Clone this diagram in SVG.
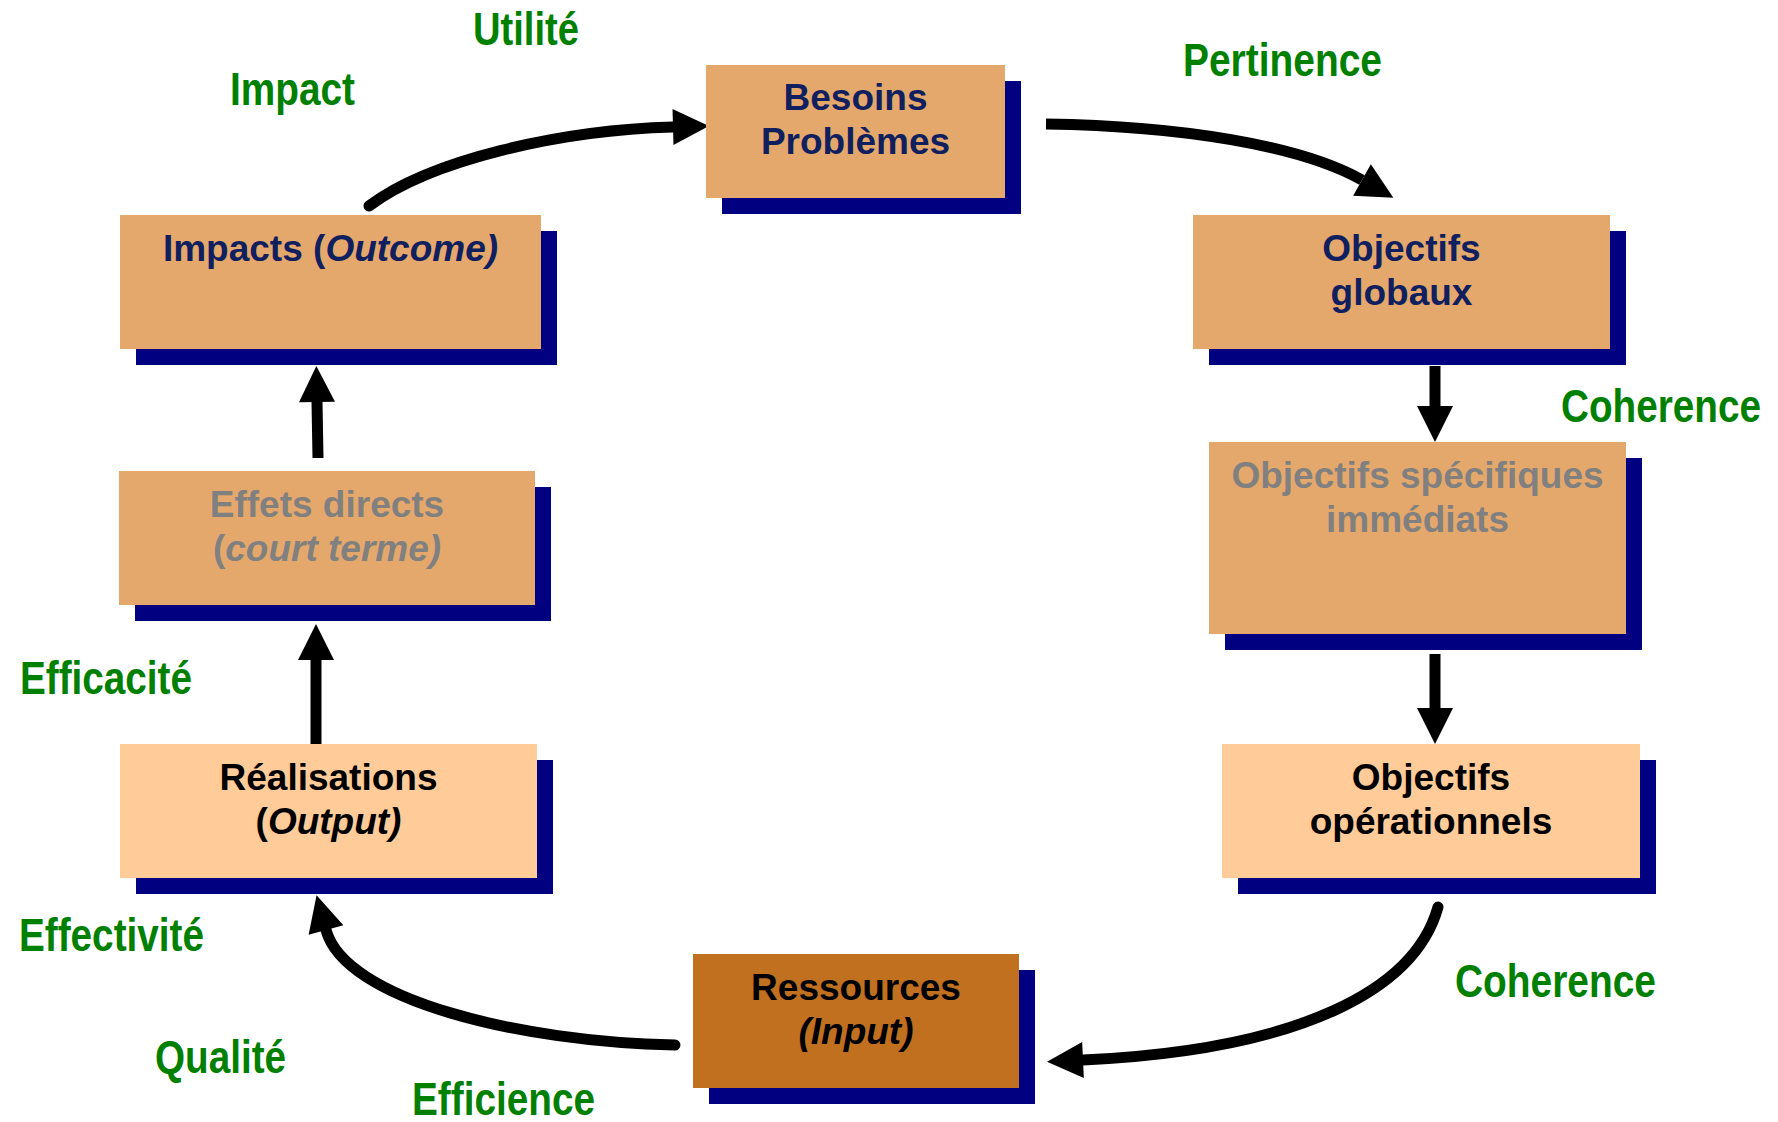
<svg xmlns="http://www.w3.org/2000/svg" width="1778" height="1122" viewBox="0 0 1778 1122">
<defs>
<style>
.sh{fill:#000080}
.bx{fill:#E5A86C}
.lt{fill:#FFCC99}
.rs{fill:#C0701F}
.t{font-family:"Liberation Sans",Arial,sans-serif;font-weight:bold;font-size:37px;text-anchor:middle}
.nv{fill:#10205E}
.gr{fill:#808080}
.bk{fill:#000000}
.lb{font-family:"Liberation Sans Narrow","Arial Narrow","Liberation Sans",Arial,sans-serif;font-weight:bold;font-size:47px;fill:#008000;font-stretch:condensed}
.c{fill:none;stroke:#000;stroke-width:11}
</style>
<marker id="ah" markerUnits="userSpaceOnUse" markerWidth="36" markerHeight="36" viewBox="0 0 36 36" refX="0" refY="18" orient="auto" overflow="visible">
<path d="M0,0 L36,18 L0,36 Z" fill="#000"/>
</marker>
</defs>
<rect width="1778" height="1122" fill="#fff"/>

<g id="connectors">
<path class="c" stroke-linecap="round" d="M369 206 C430 160 560 130 673 127" marker-end="url(#ah)"/>
<path class="c" stroke-linecap="butt" d="M1046 124 C1180 126 1300 145 1362 180" marker-end="url(#ah)"/>
<path class="c" d="M1435 366 L1435 406" marker-end="url(#ah)"/>
<path class="c" d="M1435 654 L1435 708" marker-end="url(#ah)"/>
<path class="c" stroke-linecap="round" d="M1438 907 C1415 990 1300 1050 1083 1060" marker-end="url(#ah)"/>
<path class="c" stroke-linecap="round" d="M675 1045 C520 1042 345 1000 326 930" marker-end="url(#ah)"/>
<path class="c" d="M316 744 L316 660" marker-end="url(#ah)"/>
<path class="c" d="M318 458 L317 402" marker-end="url(#ah)"/>
</g>

<g id="besoins">
<rect class="sh" x="722" y="81" width="299" height="133"/>
<rect class="bx" x="706" y="65" width="299" height="133"/>
<text class="t nv" x="855.5" y="110">Besoins</text>
<text class="t nv" x="855.5" y="154">Problèmes</text>
</g>

<g id="impacts">
<rect class="sh" x="136" y="231" width="421" height="134"/>
<rect class="bx" x="120" y="215" width="421" height="134"/>
<text class="t nv" x="330.5" y="261">Impacts (<tspan font-style="italic">Outcome)</tspan></text>
</g>

<g id="objectifs-globaux">
<rect class="sh" x="1209" y="231" width="417" height="134"/>
<rect class="bx" x="1193" y="215" width="417" height="134"/>
<text class="t nv" x="1401.5" y="261">Objectifs</text>
<text class="t nv" x="1401.5" y="305">globaux</text>
</g>

<g id="objectifs-specifiques">
<rect class="sh" x="1225" y="458" width="417" height="192"/>
<rect class="bx" x="1209" y="442" width="417" height="192"/>
<text class="t gr" x="1417.5" y="488">Objectifs spécifiques</text>
<text class="t gr" x="1417.5" y="532">immédiats</text>
</g>

<g id="objectifs-operationnels">
<rect class="sh" x="1238" y="760" width="418" height="134"/>
<rect class="lt" x="1222" y="744" width="418" height="134"/>
<text class="t bk" x="1431" y="790">Objectifs</text>
<text class="t bk" x="1431" y="834">opérationnels</text>
</g>

<g id="ressources">
<rect class="sh" x="709" y="970" width="326" height="134"/>
<rect class="rs" x="693" y="954" width="326" height="134"/>
<text class="t bk" x="856" y="1000">Ressources</text>
<text class="t bk" x="856" y="1044" font-style="italic">(Input)</text>
</g>

<g id="realisations">
<rect class="sh" x="136" y="760" width="417" height="134"/>
<rect class="lt" x="120" y="744" width="417" height="134"/>
<text class="t bk" x="328.5" y="790">Réalisations</text>
<text class="t bk" x="328.5" y="834">(<tspan font-style="italic">Output)</tspan></text>
</g>

<g id="effets-directs">
<rect class="sh" x="135" y="487" width="416" height="134"/>
<rect class="bx" x="119" y="471" width="416" height="134"/>
<text class="t gr" x="327" y="517">Effets directs</text>
<text class="t gr" x="327" y="561">(<tspan font-style="italic">court terme)</tspan></text>
</g>

<g id="labels">
<text class="lb" x="473" y="45" textLength="106" lengthAdjust="spacingAndGlyphs">Utilité</text>
<text class="lb" x="230" y="105" textLength="125" lengthAdjust="spacingAndGlyphs">Impact</text>
<text class="lb" x="1183" y="76" textLength="199" lengthAdjust="spacingAndGlyphs">Pertinence</text>
<text class="lb" x="1761" y="422" text-anchor="end" textLength="200" lengthAdjust="spacingAndGlyphs">Coherence</text>
<text class="lb" x="1455" y="997" textLength="201" lengthAdjust="spacingAndGlyphs">Coherence</text>
<text class="lb" x="20" y="694" textLength="172" lengthAdjust="spacingAndGlyphs">Efficacité</text>
<text class="lb" x="19" y="951" textLength="185" lengthAdjust="spacingAndGlyphs">Effectivité</text>
<text class="lb" x="155" y="1073" textLength="131" lengthAdjust="spacingAndGlyphs">Qualité</text>
<text class="lb" x="412" y="1115" textLength="183" lengthAdjust="spacingAndGlyphs">Efficience</text>
</g>
</svg>
